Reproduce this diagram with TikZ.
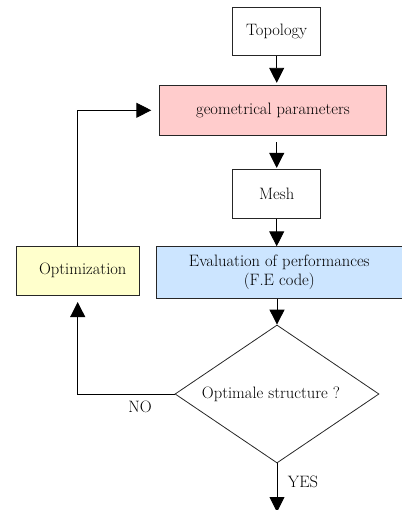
\documentclass[tikz,border=0pt]{standalone}
\usetikzlibrary{arrows.meta,shapes.geometric}
\definecolor{pinkfill}{RGB}{255,204,204}
\definecolor{yellowfill}{RGB}{255,255,204}
\definecolor{bluefill}{RGB}{204,229,255}
\begin{document}
\begin{tikzpicture}[x=1pt,y=-1pt,
  box/.style={draw=black!85,line width=0.8pt,inner sep=0pt,align=center,font=\fontsize{16.5}{19}\selectfont},
  conn/.style={draw=black,line width=0.9pt,-{Triangle[length=15pt,width=15pt]}},
  lbl/.style={inner sep=0pt,font=\fontsize{16.5}{19}\selectfont}]
\useasboundingbox (0,0) rectangle (401,510);
\node[box,minimum width=88pt,minimum height=48.4pt] (topo) at (276.7,31.5) {Topology};
\node[box,fill=pinkfill,minimum width=227.4pt,minimum height=49.3pt] (geom) at (273,110.3) {geometrical parameters};
\node[box,minimum width=88pt,minimum height=49pt] (mesh) at (276.7,193.8) {Mesh};
\node[box,fill=yellowfill,minimum width=123.3pt,minimum height=48.3pt] (optim) at (77.7,270.8) {\hspace*{10pt}Optimization};
\node[box,fill=bluefill,minimum width=245.3pt,minimum height=51.6pt] (eval) at (279.3,272.5) {Evaluation of performances\\(F.E code)};
\node[box,shape=diamond,shape aspect=1.478,minimum width=204pt,minimum height=138pt] (dec) at (277,394) {\hspace*{-12pt}Optimale structure ?};
\coordinate (out) at (277,512);
\draw[conn,shorten >=2.4pt] (topo.south) -- (topo.south |- geom.north);
\draw[conn,shorten <=6.7pt,shorten >=1pt] (mesh.north |- geom.south) -- (mesh.north);
\draw[conn] (mesh.south) -- (mesh.south |- eval.north);
\draw[conn] (dec.north |- eval.south) -- (dec.north);
\draw[conn,shorten >=7.6pt] (optim.north) |- (geom.west);
\draw[conn,shorten >=6.7pt] (dec.west) -| (optim.south);
\draw[conn] (dec.south) -- (out);
\node[lbl] (no) at (140,406.7) {NO};
\node[lbl] (yes) at (303,482) {YES};
\end{tikzpicture}
\end{document}
